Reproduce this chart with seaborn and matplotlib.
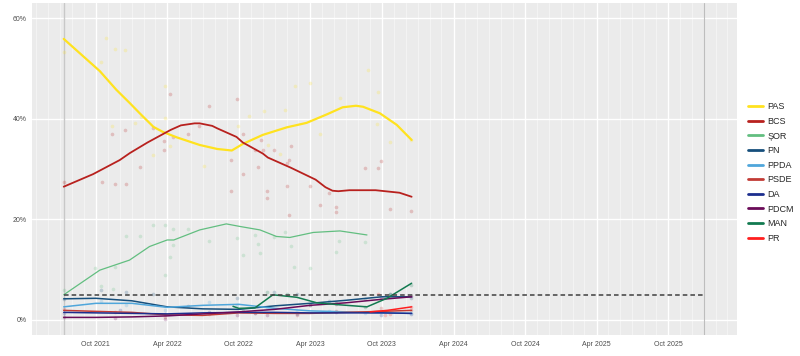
import pandas as pd
import seaborn as sns
import matplotlib.pyplot as plt
import matplotlib.dates as mdates
from matplotlib.lines import Line2D

# trend lines (smoothed poll averages)
pas_dates = ["2021-07-11", "2021-10-11", "2021-11-22", "2021-12-27", "2022-01-21", "2022-02-25",
             "2022-03-21", "2022-04-26", "2022-06-23", "2022-08-07", "2022-09-13", "2022-10-11",
             "2022-12-01", "2023-01-31", "2023-03-23", "2023-05-14", "2023-06-23", "2023-07-27",
             "2023-08-14", "2023-09-26", "2023-11-08", "2023-12-16"]
pas_trend = [55.9, 49.5, 45.8, 43.1, 41.1, 38.4, 37.4, 36.3, 34.8, 34.0, 33.7, 35.0,
             36.8, 38.3, 39.2, 40.9, 42.3, 42.6, 42.4, 41.1, 38.8, 35.8]

bcs_dates = ["2021-07-11", "2021-09-24", "2021-12-01", "2021-12-27", "2022-02-10", "2022-04-10",
             "2022-05-06", "2022-06-10", "2022-06-23", "2022-07-25", "2022-08-07", "2022-09-25",
             "2022-10-11", "2022-12-01", "2022-12-14", "2023-02-10", "2023-04-15", "2023-05-10",
             "2023-05-28", "2023-06-12", "2023-07-10", "2023-09-15", "2023-11-15", "2023-12-16"]
bcs_trend = [26.5, 29.0, 31.8, 33.2, 35.3, 37.8, 38.7, 39.1, 39.1, 38.6, 38.1, 36.4,
             35.3, 33.1, 32.3, 30.3, 27.9, 26.4, 25.7, 25.6, 25.8, 25.8, 25.3, 24.5]

sor_dates = ["2021-07-11", "2021-10-11", "2021-12-26", "2022-02-15", "2022-04-01", "2022-04-18",
             "2022-06-23", "2022-08-30", "2022-10-03", "2022-11-24", "2023-01-05", "2023-02-08",
             "2023-04-09", "2023-06-16", "2023-08-24"]
sor_trend = [5.0, 9.9, 11.9, 14.6, 15.9, 15.9, 17.9, 19.1, 18.6, 17.9, 16.6, 16.4,
             17.4, 17.7, 16.9]

small_dates = ["2021-07-11", "2021-10-01", "2022-01-01", "2022-04-01", "2022-07-01", "2022-10-01",
               "2023-01-01", "2023-04-01", "2023-07-01", "2023-10-01", "2023-12-16"]
pn_trend = [4.2, 4.3, 3.8, 2.6, 2.2, 2.1, 2.8, 3.3, 3.9, 4.6, 4.6]
ppda_trend = [2.6, 3.3, 3.3, 2.5, 2.9, 3.1, 2.3, 1.8, 1.6, 1.4, 1.3]
psde_trend = [1.9, 1.7, 1.5, 1.0, 0.9, 1.4, 1.3, 1.3, 1.5, 1.7, 1.9]
da_trend = [1.5, 1.4, 1.3, 1.2, 1.4, 1.5, 1.5, 1.4, 1.4, 1.4, 1.3]
pdcm_trend = [0.5, 0.5, 0.6, 0.8, 1.2, 1.6, 2.1, 2.9, 3.4, 4.1, 4.6]

man_dates = ["2022-09-16", "2022-10-01", "2022-11-11", "2022-12-27", "2023-02-26", "2023-04-18",
             "2023-06-16", "2023-08-24", "2023-10-14", "2023-12-16"]
man_trend = [2.7, 2.3, 2.4, 5.0, 4.5, 3.4, 3.0, 2.6, 4.3, 7.3]

pr_dates = ["2023-09-01", "2023-10-15", "2023-12-16"]
pr_trend = [1.6, 1.9, 2.6]

# individual polls
pas_poll_dates = ["2021-07-11", "2021-10-28", "2021-10-15", "2021-11-20", "2021-12-15", "2021-11-10",
                  "2022-01-25", "2022-01-08", "2022-03-27", "2022-03-27", "2022-02-25", "2022-04-07",
                  "2022-07-05", "2022-09-30", "2022-10-28", "2022-12-05", "2022-12-15", "2023-01-13",
                  "2023-01-27", "2023-02-22", "2023-04-01", "2023-04-27", "2023-06-16", "2023-08-27",
                  "2023-09-21", "2023-09-18", "2023-10-22", "2023-12-15"]
pas_polls = [53.3, 56.1, 51.4, 53.8, 53.7, 38.6, 40.3, 39.1, 46.5, 40.1, 32.8, 34.5,
             30.7, 38.6, 40.6, 41.6, 34.7, 33.1, 41.7, 46.5, 47.1, 36.9, 44.2, 49.7,
             45.4, 39.0, 35.4, 35.8]

bcs_poll_dates = ["2021-07-11", "2021-11-10", "2021-12-15", "2022-01-22", "2022-02-25", "2022-04-07",
                  "2022-03-25", "2022-03-25", "2022-04-16", "2022-05-25", "2022-06-20", "2022-07-16",
                  "2022-09-12", "2022-09-25", "2022-10-12", "2022-10-12", "2022-11-10", "2022-11-20",
                  "2022-11-26", "2022-12-02", "2022-12-30", "2023-01-31", "2023-02-12", "2023-02-05",
                  "2023-08-20", "2023-09-22", "2023-09-28", "2021-10-17", "2021-11-20", "2021-12-18",
                  "2022-09-12", "2022-12-13", "2022-12-13", "2023-01-31", "2023-04-01", "2023-04-27",
                  "2023-05-18", "2023-06-07", "2023-06-07", "2023-10-22", "2023-12-15", "2023-02-05"]
bcs_polls = [27.5, 36.9, 37.8, 30.4, 38.2, 44.9, 33.8, 35.6, 36.4, 36.9, 38.6, 42.6,
             31.9, 43.9, 36.9, 29.0, 33.8, 30.5, 35.8, 33.8, 33.8, 31.2, 34.5, 31.8,
             30.2, 30.2, 31.6, 27.5, 27.0, 27.0, 25.6, 25.6, 24.2, 26.6, 26.6, 22.9,
             25.2, 21.5, 22.5, 22.0, 21.7, 20.9]

sor_poll_dates = ["2021-07-11", "2021-09-30", "2021-10-15", "2021-11-14", "2021-11-18", "2021-12-18",
                  "2022-01-22", "2022-02-25", "2022-03-27", "2022-03-27", "2022-04-08", "2022-04-15",
                  "2022-04-16", "2022-05-25", "2022-07-16", "2022-09-25", "2022-10-12", "2022-11-10",
                  "2022-11-18", "2022-11-24", "2022-12-30", "2023-01-27", "2023-02-12", "2023-02-20",
                  "2023-04-01", "2023-06-07", "2023-06-14", "2023-08-20"]
sor_polls = [6.0, 10.3, 6.8, 6.1, 10.6, 16.6, 16.7, 18.9, 18.9, 8.9, 12.6, 18.0,
             14.9, 18.0, 15.6, 16.2, 12.9, 16.9, 15.2, 13.4, 16.4, 17.4, 14.7, 10.5,
             10.3, 13.6, 15.6, 15.4]

pn_poll_dates = ["2021-07-11", "2021-10-15", "2021-12-18", "2022-02-25", "2022-05-25", "2022-09-25",
                 "2022-12-30", "2023-02-26", "2023-05-18", "2023-08-20", "2023-10-22", "2023-12-15"]
pn_polls = [4.1, 5.9, 5.6, 5.2, 2.8, 4.4, 5.6, 5.2, 3.7, 4.2, 5.2, 4.4]

ppda_poll_dates = ["2021-10-15", "2021-12-18", "2022-03-27", "2022-07-16", "2022-09-25", "2022-12-13",
                   "2023-02-26", "2023-05-18", "2023-08-20", "2023-12-15"]
ppda_polls = [3.8, 2.9, 2.0, 3.5, 3.0, 2.4, 1.8, 1.7, 1.4, 1.3]

psde_poll_dates = ["2021-07-11", "2021-11-20", "2022-03-27", "2022-07-16", "2022-11-10", "2023-02-26",
                   "2023-06-07", "2023-09-28", "2023-12-15"]
psde_polls = [2.1, 1.5, 0.6, 1.2, 1.4, 1.0, 1.7, 2.3, 2.0]

da_poll_dates = ["2021-07-11", "2021-12-01", "2022-03-27", "2022-07-16", "2022-11-10", "2023-02-26",
                 "2023-06-07", "2023-09-28", "2023-12-15"]
da_polls = [1.4, 1.9, 1.1, 1.6, 1.3, 1.2, 1.6, 1.0, 1.2]

pdcm_poll_dates = ["2021-07-11", "2021-11-20", "2022-03-27", "2022-09-25", "2022-12-13", "2023-04-01",
                   "2023-06-07", "2023-09-28", "2023-12-15"]
pdcm_polls = [0.5, 0.4, 0.2, 0.9, 0.9, 3.0, 3.2, 4.5, 4.8]

man_poll_dates = ["2022-10-12", "2022-12-13", "2023-01-31", "2023-04-01", "2023-06-07", "2023-08-20",
                  "2023-10-22", "2023-12-15"]
man_polls = [1.8, 5.5, 5.2, 2.9, 3.3, 2.6, 5.1, 7.0]

pr_poll_dates = ["2023-09-22", "2023-10-10", "2023-10-22", "2023-12-15"]
pr_polls = [5.2, 1.0, 1.1, 2.6]

parties = ["PAS", "BCS", "ȘOR", "PN", "PPDA", "PSDE", "DA", "PDCM", "MAN", "PR"]
colors = ["#FFE21F", "#B8211E", "#62BE80", "#164F7C", "#4FA6DB", "#C23B35",
          "#1C2E8E", "#6A0B58", "#127A50", "#FF1F1F"]
widths = [1.6, 1.3, 0.9, 1.1, 1.1, 1.1, 1.1, 1.1, 1.1, 1.1]

trends = [(pas_dates, pas_trend), (bcs_dates, bcs_trend), (sor_dates, sor_trend),
          (small_dates, pn_trend), (small_dates, ppda_trend), (small_dates, psde_trend),
          (small_dates, da_trend), (small_dates, pdcm_trend), (man_dates, man_trend),
          (pr_dates, pr_trend)]
polls = [(pas_poll_dates, pas_polls), (bcs_poll_dates, bcs_polls), (sor_poll_dates, sor_polls),
         (pn_poll_dates, pn_polls), (ppda_poll_dates, ppda_polls), (psde_poll_dates, psde_polls),
         (da_poll_dates, da_polls), (pdcm_poll_dates, pdcm_polls), (man_poll_dates, man_polls),
         (pr_poll_dates, pr_polls)]

election_start = pd.Timestamp("2021-07-11")
election_next = pd.Timestamp("2025-12-31")

sns.set_style("whitegrid")
plt.rcParams["font.family"] = ["Liberation Sans", "DejaVu Sans"]

fig = plt.figure(figsize=(8, 3.56), dpi=100)
ax = fig.add_axes([0.04, 0.059, 0.881, 0.932])
ax.set_facecolor("#EBEBEB")

# polls first, faint
for p, c, (d, v) in zip(parties, colors, polls):
    df = pd.DataFrame({"date": pd.to_datetime(d), "value": v})
    sns.scatterplot(data=df, x="date", y="value", color=c, alpha=0.22, s=7,
                    linewidth=0, ax=ax, legend=False, zorder=2)

for p, c, w, (d, v) in zip(parties, colors, widths, trends):
    df = pd.DataFrame({"date": pd.to_datetime(d), "value": v})
    sns.lineplot(data=df, x="date", y="value", color=c, lw=w, ax=ax, zorder=3)
for ln in ax.lines:
    ln.set_solid_joinstyle("round")

ax.axvline(election_start, color="#C8C8C8", lw=1, zorder=1)
ax.axvline(election_next, color="#BDBDBD", lw=0.8, zorder=1)
ax.plot([election_start, election_next], [5, 5], ls=(0, (3, 2)), color="#404040", lw=1.1, zorder=4)

ax.set_xlim(pd.Timestamp("2021-04-21"), pd.Timestamp("2026-03-25"))
ax.set_ylim(-3, 63)
ax.set_yticks([0, 20, 40, 60])
ax.set_yticklabels(["0%", "20%", "40%", "60%"])
ax.xaxis.set_major_locator(mdates.MonthLocator(bymonth=[4, 10]))
ax.xaxis.set_major_formatter(mdates.DateFormatter("%b %Y"))
ax.xaxis.set_minor_locator(mdates.MonthLocator())
ax.grid(True, which="major", color="white", lw=1.0, zorder=0)
ax.grid(True, which="minor", axis="x", color="white", lw=0.5, alpha=0.6, zorder=0)
ax.set_axisbelow(True)
ax.set_xlabel("")
ax.set_ylabel("")
for s in ax.spines.values():
    s.set_visible(False)
ax.tick_params(axis="both", which="major", labelsize=5, colors="#555555", length=2, width=0.5,
               labelcolor="#4D4D4D", pad=2)
ax.tick_params(axis="x", which="minor", length=0)

handles = [Line2D([0], [0], color=c, lw=2) for c in colors]
fig.legend(handles, parties, loc="upper left", bbox_to_anchor=(0.925, 0.735), frameon=False,
           fontsize=6.5, handlelength=1.6, handletextpad=0.5, labelspacing=0.62)

fig.savefig("out.png", dpi=100)
